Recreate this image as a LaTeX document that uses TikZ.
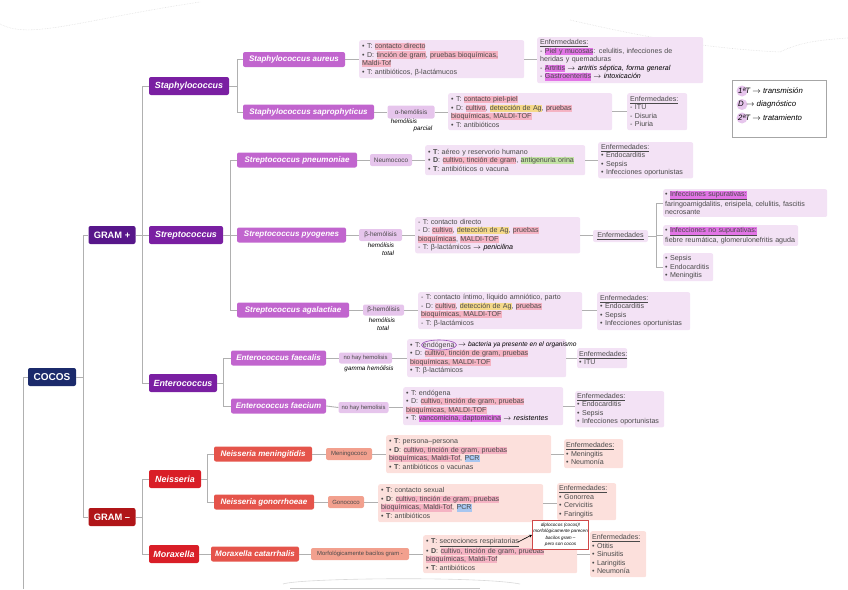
\documentclass[tikz,border=0pt]{standalone}
\usepackage{fontspec}
\setmainfont{Liberation Sans}
\usetikzlibrary{shapes.geometric,arrows.meta}
\definecolor{navy}{HTML}{1B2A6B}
\definecolor{gpurple}{HTML}{57168A}
\definecolor{genpurple}{HTML}{7A1FA2}
\definecolor{sppurple}{HTML}{C165CE}
\definecolor{hempurple}{HTML}{E6C5EC}
\definecolor{infopurple}{HTML}{F3E2F5}
\definecolor{gred}{HTML}{B01518}
\definecolor{genred}{HTML}{D91E27}
\definecolor{spred}{HTML}{E5544B}
\definecolor{hemred}{HTML}{F2A08E}
\definecolor{infored}{HTML}{FCE0DC}
\definecolor{hlpink}{HTML}{F5B3C3}
\definecolor{hlyellow}{HTML}{F5D98A}
\definecolor{hlgreen}{HTML}{C3E2A4}
\definecolor{hlmag}{HTML}{E274E6}
\definecolor{hlblue}{HTML}{A7C6F0}
\definecolor{txtgray}{HTML}{4A4A4A}
\definecolor{conngray}{HTML}{B0B0B0}
\definecolor{notered}{HTML}{D04848}
\newcommand\hl[2]{\begingroup\setlength{\fboxsep}{0pt}\colorbox{#1}{\rule[-1.6pt]{0pt}{7.2pt}#2}\endgroup}
\newcommand\hw[1]{{\color{black}\itshape #1}}
\newcommand\ml[1]{\mbox{#1}}
\tikzset{
 conn/.style={draw=conngray, line width=0.9pt},
 rbox/.style={rounded corners=2pt, inner sep=0pt, align=center},
 lvlzero/.style={rbox, fill=navy, text=white, font=\fontsize{10}{12}\selectfont\bfseries, minimum width=48pt, minimum height=18pt},
 gpbox/.style={rbox, fill=gpurple, text=white, font=\fontsize{9.3}{11}\selectfont\bfseries, minimum width=47pt, minimum height=18pt},
 gmbox/.style={gpbox, fill=gred},
 genp/.style={rbox, fill=genpurple, text=white, font=\fontsize{8.9}{10}\selectfont\bfseries\itshape, minimum height=18pt},
 genr/.style={genp, fill=genred},
 spp/.style={rbox, fill=sppurple, text=white, font=\fontsize{8}{9}\selectfont\bfseries\itshape, minimum height=15pt},
 spr/.style={spp, fill=spred},
 hemp/.style={rbox, fill=hempurple, text=txtgray, font=\fontsize{6.4}{8}\selectfont, minimum height=12pt},
 hemr/.style={hemp, fill=hemred},
 infop/.style={rounded corners=2pt, fill=infopurple, inner xsep=3pt, inner ysep=2pt, anchor=north west, align=left, text=txtgray, font=\fontsize{7.1}{8.5}\selectfont},
 infor/.style={infop, fill=infored},
 hand/.style={inner sep=0pt, text=black, font=\fontsize{6.3}{7}\selectfont\itshape},
 legtxt/.style={inner sep=0pt, anchor=west, text=black, font=\fontsize{7.8}{9}\selectfont\itshape},
}
\begin{document}
\begin{tikzpicture}[x=1pt,y=-1pt]
\useasboundingbox (0,0) rectangle (848,589);
% faint sketches
\draw[gray!25, densely dotted, line width=0.6pt] (0,24) .. controls (30,40) and (80,20) .. (200,2);
\draw[gray!25, densely dotted, line width=0.6pt] (570,20) .. controls (640,36) and (700,48) .. (780,52) .. controls (800,42) and (820,40) .. (848,38);
\draw[gray!30, line width=0.6pt] (283,584) .. controls (300,578) and (480,576) .. (520,584);
\draw[gray!45, line width=0.8pt] (290,588) -- (480,588);

% main tree
\node[lvlzero] (cocos) at (52,377) {COCOS};
\node[gpbox] (gp) at (112,235) {GRAM +};
\node[gmbox] (gm) at (112,517) {GRAM –};
\node[genp, minimum width=80pt] (staph) at (189,86) {Staphylococcus};
\node[genp, minimum width=74pt] (strep) at (186,235) {Streptococcus};
\node[genp, minimum width=68pt] (entero) at (183,383) {Enterococcus};
\node[genr, minimum width=52pt] (neis) at (175,479) {Neisseria};
\node[genr, minimum width=50pt] (morax) at (174,554) {Moraxella};

\coordinate (root) at (23,589);
\draw[conn] (root) |- (cocos.west);
\draw[conn] (cocos.east) -- ++(7,0) |- (gp.west);
\draw[conn] (cocos.east) -- ++(7,0) |- (gm.west);
\draw[conn] (gp.east) -- ++(7,0) |- (staph.west);
\draw[conn] (gp.east) -- (strep.west);
\draw[conn] (gp.east) -- ++(7,0) |- (entero.west);
\draw[conn] (gm.east) -- ++(7,0) |- (neis.west);
\draw[conn] (gm.east) -- ++(7,0) |- (morax.west);

% species
\node[spp, minimum width=102pt] (saureus) at (294,59.5) {Staphylococcus aureus};
\node[spp, minimum width=131pt] (ssapro) at (308.5,112) {Staphylococcus saprophyticus};
\node[spp, minimum width=120pt] (spneumo) at (297,160) {Streptococcus pneumoniae};
\node[spp, minimum width=109pt] (spyo) at (291.5,235) {Streptococcus pyogenes};
\node[spp, minimum width=112pt] (sagal) at (293,310) {Streptococcus agalactiae};
\node[spp, minimum width=95pt] (efaecalis) at (278.5,358) {Enterococcus faecalis};
\node[spp, minimum width=95pt] (efaecium) at (278.5,406) {Enterococcus faecium};
\node[spr, minimum width=98pt] (nmen) at (263,454) {Neisseria meningitidis};
\node[spr, minimum width=100pt] (ngon) at (264,502) {Neisseria gonorrhoeae};
\node[spr, minimum width=88pt] (mcat) at (255,554) {Moraxella catarrhalis};

\draw[conn] (staph.east) -- ++(8,0) |- (saureus.west);
\draw[conn] (staph.east) -- ++(8,0) |- (ssapro.west);
\draw[conn] (strep.east) -- ++(7,0) |- (spneumo.west);
\draw[conn] (strep.east) -- (spyo.west);
\draw[conn] (strep.east) -- ++(7,0) |- (sagal.west);
\draw[conn] (entero.east) -- ++(6,0) |- (efaecalis.west);
\draw[conn] (entero.east) -- ++(6,0) |- (efaecium.west);
\draw[conn] (neis.east) -- ++(6,0) |- (nmen.west);
\draw[conn] (neis.east) -- ++(6,0) |- (ngon.west);
\draw[conn] (morax.east) -- (mcat.west);

% hemolysis / names
\node[hemp, minimum width=47pt, minimum height=13pt] (alpha) at (411,112) {α-hemólisis};
\node[hemp, minimum width=42pt] (neumo) at (391,160) {Neumococo};
\node[hemp, minimum width=43pt] (beta1) at (380.5,235) {β-hemólisis};
\node[hemp, minimum width=41pt, minimum height=11pt] (beta2) at (383.5,310) {β-hemólisis};
\node[hemp, minimum width=53pt, minimum height=11pt, font=\fontsize{5.9}{7}\selectfont] (nohay1) at (365.5,358) {no hay hemolisis};
\node[hemp, minimum width=50pt, minimum height=11pt, font=\fontsize{5.9}{7}\selectfont] (nohay2) at (363.5,407.5) {no hay hemolisis};
\node[hemr, minimum width=46pt, font=\fontsize{6}{7}\selectfont] (mening) at (349,454) {Meningococo};
\node[hemr, minimum width=36pt, font=\fontsize{6}{7}\selectfont] (gono) at (346,502) {Gonococo};
\node[hemr, minimum width=98pt, font=\fontsize{5.9}{7}\selectfont] (morfo) at (360,554) {Morfológicamente bacilos gram -};

\draw[conn] (ssapro.east) -- (alpha.west);
\draw[conn] (spneumo.east) -- (neumo.west);
\draw[conn] (spyo.east) -- (beta1.west);
\draw[conn] (sagal.east) -- (beta2.west);
\draw[conn] (efaecalis.east) -- (nohay1.west);
\draw[conn] (efaecium.east) -- (nohay2.west);
\draw[conn] (nmen.east) -- (mening.west);
\draw[conn] (ngon.east) -- (gono.west);
\draw[conn] (mcat.east) -- (morfo.west);

% handwritten notes under hemolysis nodes
\node[hand] (hpa) at (404,121) {hemólisis};
\node[hand] (hpb) at (423,129) {parcial};
\node[hand] (hta) at (381,245) {hemólisis};
\node[hand] (htb) at (388,253) {total};
\node[hand] (hua) at (382,320) {hemólisis};
\node[hand] (hub) at (383,328) {total};
\node[hand] (hga) at (369,368.5) {gamma hemólisis};

% info boxes
\node[infop, minimum width=165pt, minimum height=38pt, text width=159pt] (i1) at (359,40) {%
• T: \hl{hlpink}{contacto directo}\\
\ml{• D: \hl{hlpink}{tinción de gram}, \hl{hlpink}{pruebas bioquímicas,}}\\
\hl{hlpink}{Maldi-Tof}\\
• T: antibióticos, β-lactámucos};
\node[infop, minimum width=164pt, minimum height=37pt, text width=158pt] (i2) at (448,93) {%
• T: \hl{hlpink}{contacto piel-piel}\\
\ml{• D: \hl{hlpink}{cultivo}, \hl{hlyellow}{detección de Ag}, \hl{hlpink}{pruebas}}\\
\hl{hlpink}{bioquímicas, MALDI-TOF}\\
• T: antibióticos};
\node[infop, minimum width=160pt, minimum height=30pt, text width=154pt] (i3) at (425,145) {%
• \textbf{T}: aéreo y reservorio humano\\
\ml{• \textbf{D}: \hl{hlpink}{cultivo, tinción de gram}, \hl{hlgreen}{antigenuria orina}}\\
• \textbf{T}: antibióticos o vacuna};
\node[infop, minimum width=165pt, minimum height=36pt, text width=159pt] (i4) at (415,217) {%
- T: contacto directo\\
\ml{- D: \hl{hlpink}{cultivo}, \hl{hlyellow}{detección de Ag}, \hl{hlpink}{pruebas}}\\
\hl{hlpink}{bioquímicas}, \hl{hlpink}{MALDI-TOF}\\
\ml{- T: β-lactámicos \hw{$\rightarrow$ penicilina}}};
\node[infop, minimum width=164pt, minimum height=37pt, text width=158pt] (i5) at (418,292) {%
\ml{- T: contacto íntimo, líquido amniótico, parto}\\
\ml{- D: \hl{hlpink}{cultivo}, \hl{hlyellow}{detección de Ag}, \hl{hlpink}{pruebas}}\\
\hl{hlpink}{bioquímicas, MALDI-TOF}\\
- T: β-lactámicos};
\node[infop, minimum width=159pt, minimum height=38pt, text width=153pt] (i6) at (407,339) {%
• T: endógena\\
\ml{• D: \hl{hlpink}{cultivo, tinción de gram, pruebas}}\\
\hl{hlpink}{bioquímicas, MALDI-TOF}\\
• T: β-lactámicos};
\node[infop, minimum width=160pt, minimum height=38pt, text width=154pt] (i7) at (403,387) {%
• T: endógena\\
\ml{• D: \hl{hlpink}{cultivo, tinción de gram, pruebas}}\\
\hl{hlpink}{bioquímicas, MALDI-TOF}\\
\ml{• T: \hl{hlmag}{vancomicina, daptomicina} \hw{$\rightarrow$ resistentes}}};
\node[infor, minimum width=165pt, minimum height=38pt, text width=159pt] (i8) at (386,435) {%
• \textbf{T}: persona–persona\\
\ml{• \textbf{D}: \hl{hlpink}{cultivo, tinción de gram, pruebas}}\\
\hl{hlpink}{bioquímicas, Maldi-Tof}, \hl{hlblue}{PCR}\\
• \textbf{T}: antibióticos o vacunas};
\node[infor, minimum width=165pt, minimum height=38pt, text width=159pt] (i9) at (378,484) {%
• \textbf{T}: contacto sexual\\
\ml{• \textbf{D}: \hl{hlpink}{cultivo, tinción de gram, pruebas}}\\
\hl{hlpink}{bioquímicas, Maldi-Tof}, \hl{hlblue}{PCR}\\
• \textbf{T}: antibióticos};
\node[infor, minimum width=154pt, minimum height=38pt, text width=148pt] (i10) at (423,535) {%
• \textbf{T}: \underline{secreciones respiratorias}\\
\ml{• \textbf{D}: \hl{hlpink}{cultivo, tinción de gram, pruebas}}\\
\hl{hlpink}{bioquímicas, Maldi-Tof}\\
• \textbf{T}: antibióticos};

\draw[conn] (saureus.east) -- (saureus.east -| i1.west);
\draw[conn] (alpha.east) -- (alpha.east -| i2.west);
\draw[conn] (neumo.east) -- (neumo.east -| i3.west);
\draw[conn] (beta1.east) -- (beta1.east -| i4.west);
\draw[conn] (beta2.east) -- (beta2.east -| i5.west);
\draw[conn] (nohay1.east) -- (nohay1.east -| i6.west);
\draw[conn] (nohay2.east) -- (nohay2.east -| i7.west);
\draw[conn] (mening.east) -- (mening.east -| i8.west);
\draw[conn] (gono.east) -- (gono.east -| i9.west);
\draw[conn] (morfo.east) -- (morfo.east -| i10.west);

% endogena annotation
\draw[genpurple!80, line width=0.6pt] (439,345) ellipse (17.5 and 5);
\node[hand, anchor=west, font=\fontsize{6.6}{7}\selectfont\itshape] (endo) at (458,345) {$\rightarrow$ bacteria ya presente en el organismo};

% enfermedades boxes
\node[infop, minimum width=166pt, minimum height=46pt, text width=160pt] (e1) at (537,37) {%
\underline{Enfermedades:}\\
\ml{- \hl{hlmag}{Piel y mucosas}: celulitis, infecciones de}\\
heridas y quemaduras\\
\ml{- \hl{hlmag}{Artritis} \hw{$\rightarrow$ artritis séptica, forma general}}\\
- \hl{hlmag}{Gastroenteritis} \hw{$\rightarrow$ intoxicación}};
\node[infop, minimum width=60pt, minimum height=37pt, text width=54pt] (e2) at (627,93) {%
\underline{Enfermedades:}\\
- ITU\\
- Disuria\\
- Piuria};
\node[infop, minimum width=95pt, minimum height=36pt, text width=89pt] (e3) at (598,142) {%
\underline{Enfermedades:}\\
• Endocarditis\\
• Sepsis\\
\ml{• Infecciones oportunistas}};
\node[hemp, minimum width=55pt, fill=infopurple, font=\fontsize{7.1}{8}\selectfont] (e4) at (620.5,236) {\underline{Enfermedades}};
\node[infop, minimum width=164pt, minimum height=27pt, text width=160pt, inner xsep=2pt] (e4a) at (663,189) {%
• \hl{hlmag}{\underline{Infecciones supurativas:}}\\
\ml{faringoamigdalitis, erisipela, celulitis, fascitis}\\
necrosante};
\node[infop, minimum width=135pt, minimum height=20pt, text width=131pt, inner xsep=2pt] (e4b) at (663,225) {%
• \hl{hlmag}{\underline{Infecciones no supurativas:}}\\
\ml{fiebre reumática, glomerulonefritis aguda}};
\node[infop, minimum width=50pt, minimum height=28pt, text width=46pt, inner xsep=2pt] (e4c) at (663,253) {%
• Sepsis\\
\ml{• Endocarditis}\\
• Meningitis};
\node[infop, minimum width=93pt, minimum height=38pt, text width=87pt] (e5) at (597,292) {%
\underline{Enfermedades:}\\
• Endocarditis\\
• Sepsis\\
\ml{• Infecciones oportunistas}};
\node[infop, minimum width=50pt, minimum height=20pt, text width=46pt, inner xsep=2pt] (e6) at (577,348) {%
\ml{\underline{Enfermedades:}}\\
• ITU};
\node[infop, minimum width=89pt, minimum height=36pt, text width=85pt, inner xsep=2pt] (e7) at (575,391) {%
\underline{Enfermedades:}\\
• Endocarditis\\
• Sepsis\\
\ml{• Infecciones oportunistas}};
\node[infor, minimum width=59pt, minimum height=29pt, text width=55pt, inner xsep=2pt] (e8) at (564,439) {%
\ml{\underline{Enfermedades:}}\\
• Meningitis\\
• Neumonía};
\node[infor, minimum width=59pt, minimum height=37pt, text width=55pt, inner xsep=2pt] (e9) at (557,483) {%
\ml{\underline{Enfermedades:}}\\
• Gonorrea\\
• Cervicitis\\
• Faringitis};
\node[infor, minimum width=56pt, minimum height=46pt, text width=52pt, inner xsep=2pt] (e10) at (590,531) {%
\ml{\underline{Enfermedades:}}\\
• Otitis\\
• Sinusitis\\
• Laringitis\\
• Neumonía};

\draw[conn] (i1.east) -- (i1.east -| e1.west);
\draw[conn] (i2.east) -- (i2.east -| e2.west);
\draw[conn] (i3.east) -- (i3.east -| e3.west);
\draw[conn] (i4.east) -- (i4.east -| e4.west);
\draw[conn] (e4.east) -- ++(8,0) |- (e4a.west);
\draw[conn] (e4.east) -- ++(8,0) |- (e4b.west);
\draw[conn] (e4.east) -- ++(8,0) |- (e4c.west);
\draw[conn] (i5.east) -- (i5.east -| e5.west);
\draw[conn] (i6.east) -- (i6.east -| e6.west);
\draw[conn] (i7.east) -- (i7.east -| e7.west);
\draw[conn] (i8.east) -- (i8.east -| e8.west);
\draw[conn] (i9.east) -- (i9.east -| e9.west);
\draw[conn] (i10.east) -- (i10.east -| e10.west);

% moraxella note
\node[draw=notered, fill=white, line width=0.7pt, inner sep=1pt, anchor=north west, minimum width=55pt, minimum height=29pt, align=center, text=black, font=\fontsize{4.6}{6.2}\selectfont\itshape] (note) at (532,520) {diplococos (cocos)!\\morfológicamente parecen\\bacilos gram –\\pero son cocos};
\coordinate (secr) at (518,542);
\draw[black, line width=0.6pt, -{Stealth[length=3pt,width=3pt]}] (secr) -- (note.west);

% legend
\node[draw=gray!70, fill=white, line width=0.6pt, minimum width=94pt, minimum height=57pt, anchor=north west] (legend) at (732,80) {};
\fill[hempurple] (742,91) circle (5.5);
\fill[hempurple] (742,104.5) circle (5.5);
\fill[hempurple] (742,118) circle (5.5);
\node[legtxt] (l1) at (738,91) {1ªT $\rightarrow$ transmisión};
\node[legtxt] (l2) at (738,104.5) {D $\rightarrow$ diagnóstico};
\node[legtxt] (l3) at (738,118) {2ªT $\rightarrow$ tratamiento};
\end{tikzpicture}
\end{document}
